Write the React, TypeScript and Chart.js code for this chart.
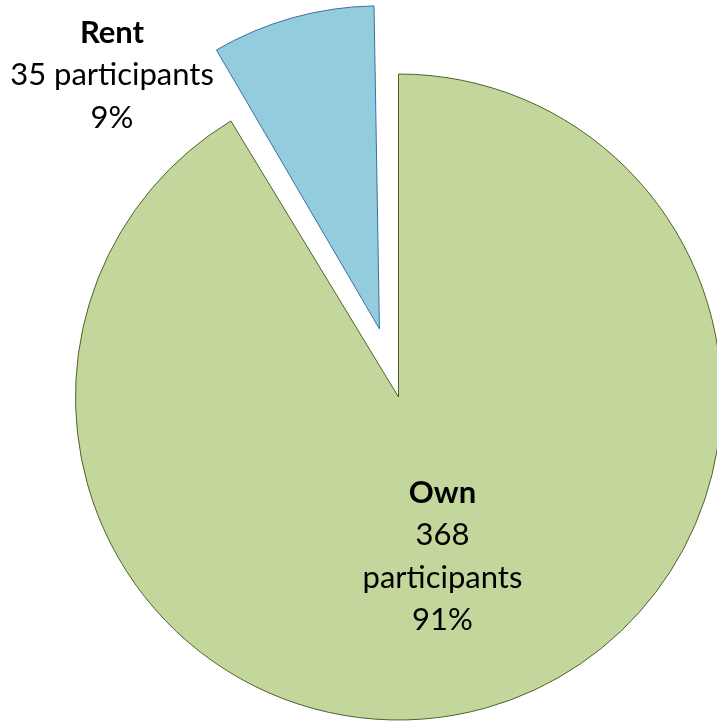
import React, { useEffect, useRef } from "react";
import { Chart, registerables } from "chart.js";

Chart.register(...registerables);

const categories = ["Own", "Rent"];
const participants = [368, 35];
const percentLabels = ["91%", "9%"];
const countLines = [["368", "participants"], ["35 participants"]];

const fillColors = ["#C3D69B", "#93CDDD"];
const borderColors = ["#4F6228", "#3A6EA5"];

// Keep exploded slice at the same radius as the others (Chart.js enlarges
// small offset arcs by offset/4 * (1 - sin(circumference))).
const keepRadiusPlugin = {
  id: "keepRadius",
  afterDatasetUpdate(chart: any, args: any) {
    const meta = args.meta || chart.getDatasetMeta(args.index);
    meta.data.forEach((arc: any) => {
      const o = (arc.options && arc.options.offset) || 0;
      if (!o) return;
      const c = arc.circumference;
      const fix = 1 - Math.sin(Math.min(Math.PI, c || 0));
      arc.outerRadius = arc.outerRadius - (o / 4) * fix;
    });
  },
};

const labelPlugin = {
  id: "sliceLabels",
  afterDatasetsDraw(chart: any, _args: any, opts: any) {
    const meta = chart.getDatasetMeta(0);
    const ctx = chart.ctx;
    const fontFamily = opts.fontFamily;
    const size = opts.fontSize;
    const lh = opts.lineHeight;
    const R = chart.options.radius;
    meta.data.forEach((arc: any, i: number) => {
      const pos = opts.anchors[i];
      const x = arc.x + pos[0] * R;
      let y = arc.y + pos[1] * R;
      const lines: { t: string; bold: boolean }[] = [];
      lines.push({ t: categories[i], bold: true });
      countLines[i].forEach((t) => lines.push({ t, bold: false }));
      lines.push({ t: percentLabels[i], bold: false });
      ctx.save();
      ctx.fillStyle = "#000000";
      ctx.textAlign = "center";
      ctx.textBaseline = "alphabetic";
      lines.forEach((ln) => {
        ctx.font = `${ln.bold ? "bold " : ""}${size}px ${fontFamily}`;
        ctx.fillText(ln.t, x, y);
        y += lh;
      });
      ctx.restore();
    });
  },
};

export default function App() {
  const ref = useRef<HTMLCanvasElement | null>(null);
  useEffect(() => {
    if (!ref.current) return;
    const chart = new Chart(ref.current, {
      type: "pie",
      data: {
        labels: categories,
        datasets: [
          {
            data: participants,
            backgroundColor: fillColors,
            borderColor: borderColors,
            borderWidth: 1,
            borderJoinStyle: "miter",
            offset: [0, 283],
          } as any,
        ],
      },
      options: {
        responsive: false,
        animation: false,
        radius: 323,
        layout: { padding: { left: 80, right: 0, top: 71, bottom: 0 } },
        plugins: {
          legend: { display: false },
          tooltip: { enabled: false },
          sliceLabels: {
            fontFamily: "Lato, 'Open Sans', sans-serif",
            fontSize: 31,
            lineHeight: 42.3,
            anchors: [
              [0.136, 0.328],
              [-0.887, -1.096],
            ],
          },
        } as any,
      } as any,
      plugins: [keepRadiusPlugin, labelPlugin],
    });
    return () => chart.destroy();
  }, []);
  return (
    <div style={{ position: "fixed", left: 0, top: 0, width: 717, height: 723, background: "#ffffff" }}>
      <canvas ref={ref} width={717} height={723} style={{ display: "block" }} />
    </div>
  );
}
